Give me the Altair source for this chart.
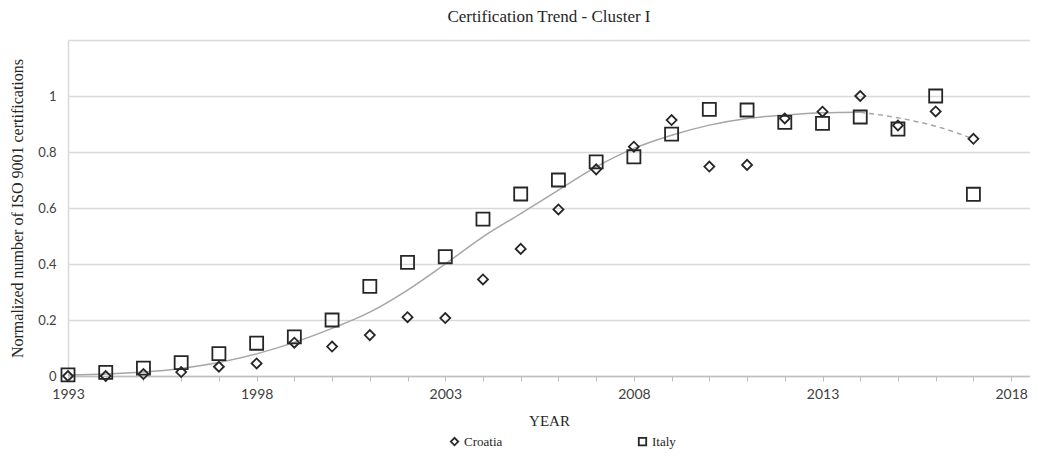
import altair as alt
import pandas as pd

years = list(range(1993, 2018))
croatia = [0.0, 0.0, 0.007, 0.014, 0.033, 0.045, 0.119, 0.105, 0.146, 0.21, 0.207,
           0.345, 0.454, 0.595, 0.738, 0.819, 0.914, 0.748, 0.754, 0.92, 0.944,
           1.0, 0.895, 0.945, 0.847]
italy = [0.004, 0.013, 0.028, 0.048, 0.08, 0.117, 0.14, 0.2, 0.32, 0.406, 0.426,
         0.56, 0.65, 0.70, 0.765, 0.783, 0.864, 0.952, 0.95, 0.906, 0.902,
         0.925, 0.882, 1.0, 0.649]

trend_years_solid = list(range(1993, 2015))
trend_solid = [0.004, 0.007, 0.014, 0.027, 0.048, 0.079, 0.12, 0.17, 0.228, 0.307,
               0.40, 0.497, 0.58, 0.664, 0.747, 0.813, 0.86, 0.896, 0.92, 0.932,
               0.94, 0.942]
trend_years_dashed = [2014, 2015, 2016, 2017]
trend_dashed = [0.942, 0.922, 0.892, 0.847]

x_ticks = list(range(1993, 2019))
y_ticks = [0, 0.2, 0.4, 0.6, 0.8, 1.0, 1.2]

pts = pd.DataFrame({
    "year": years * 2,
    "value": croatia + italy,
    "country": ["Croatia"] * len(years) + ["Italy"] * len(years),
})
solid = pd.DataFrame({"year": trend_years_solid, "value": trend_solid})
dashed = pd.DataFrame({"year": trend_years_dashed, "value": trend_dashed})

xscale = alt.Scale(domain=[1993, 2018.5], nice=False, zero=False)
yscale = alt.Scale(domain=[0, 1.2], nice=False)

x_axis = alt.Axis(
    values=x_ticks, format="d",
    labelExpr="(datum.value - 1993) % 5 == 0 ? datum.label : ''",
    labelOverlap=False, labelFlush=False,
    grid=False, domainColor="#bfbfbf", domainWidth=1.5,
    tickColor="#bfbfbf", tickSize=5, tickWidth=1,
    labelFont="Lato", labelFontSize=14, labelColor="#404040", labelPadding=6,
    title="YEAR", titleFont="Liberation Serif", titleFontSize=15,
    titleFontWeight="normal", titleColor="#262626", titlePadding=12,
)
y_axis = alt.Axis(
    values=y_ticks, format="~g",
    labelExpr="datum.value > 1.1 ? '' : datum.label",
    labelOverlap=False,
    grid=True, gridColor="#d9d9d9", gridWidth=1.5,
    domainColor="#d9d9d9", domainWidth=1.5, ticks=False,
    labelFont="Lato", labelFontSize=13, labelColor="#404040", labelPadding=12,
    title="Normalized number of ISO 9001 certifications",
    titleFont="Liberation Serif", titleFontSize=16, titleFontWeight="normal",
    titleColor="#262626", titlePadding=12,
)

X = alt.X("year:Q", scale=xscale, axis=x_axis)
Y = alt.Y("value:Q", scale=yscale, axis=y_axis)

line_solid = alt.Chart(solid).mark_line(
    color="#a6a6a6", strokeWidth=1.5, interpolate="monotone"
).encode(x=X, y=Y)
line_dashed = alt.Chart(dashed).mark_line(
    color="#a6a6a6", strokeWidth=1.5, strokeDash=[5, 4], interpolate="monotone"
).encode(x=X, y=Y)

points = alt.Chart(pts).mark_point(filled=False, strokeWidth=1.8, opacity=1).encode(
    x=X,
    y=Y,
    shape=alt.Shape("country:N", scale=alt.Scale(domain=["Croatia", "Italy"],
                                                  range=["diamond", "square"]),
                    legend=alt.Legend(
                        title=None, orient="none", direction="horizontal",
                        legendX=380, legendY=395, columnPadding=132,
                        symbolSize=55, symbolStrokeWidth=1.8,
                        symbolStrokeColor="#262626", symbolFillColor="transparent",
                        labelFont="Liberation Serif", labelFontSize=13,
                        labelColor="#262626", labelOffset=3)),
    size=alt.condition(alt.datum.country == "Croatia", alt.value(100), alt.value(170)),
    color=alt.value("#262626"),
)

chart = alt.layer(line_solid, line_dashed, points).properties(
    width=962, height=336,
    title=alt.TitleParams("Certification Trend - Cluster I", font="Liberation Serif",
                          fontSize=17, fontWeight="normal", color="#262626",
                          anchor="middle", frame="group", offset=8),
    autosize=alt.AutoSizeParams(type="none"),
    padding={"left": 60, "top": 32, "right": 0, "bottom": 74},
).configure_view(stroke=None)

chart.save("out.html", embed_options={"renderer": "svg", "actions": False})
